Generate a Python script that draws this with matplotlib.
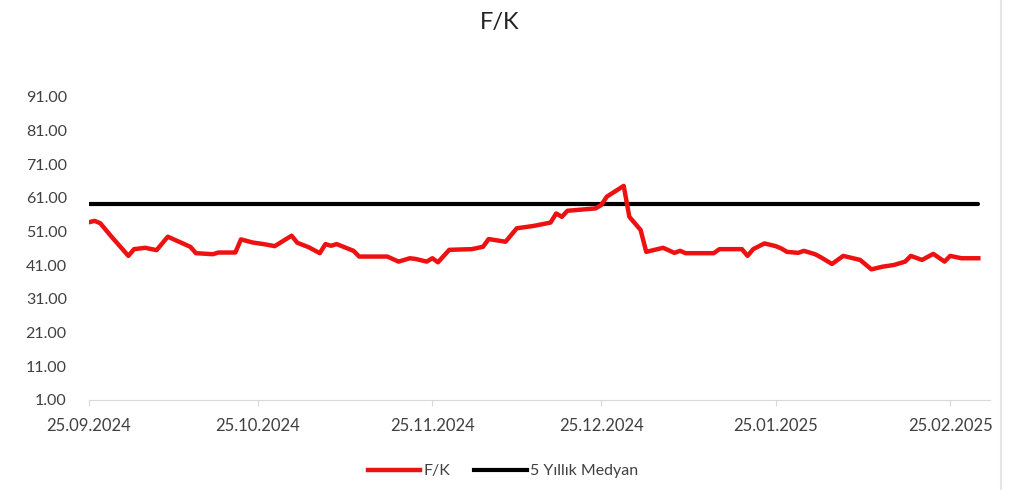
import numpy as np
import pandas as pd
import matplotlib.pyplot as plt
import matplotlib.dates as mdates
from matplotlib.lines import Line2D

plt.rcParams['font.family'] = ['Lato', 'DejaVu Sans']

# F/K series
dates = ["2024-09-25", "2024-09-26", "2024-09-27", "2024-09-29", "2024-10-02", "2024-10-03",
         "2024-10-05", "2024-10-07", "2024-10-09", "2024-10-11", "2024-10-13", "2024-10-14",
         "2024-10-17", "2024-10-18", "2024-10-21", "2024-10-22", "2024-10-24", "2024-10-26",
         "2024-10-28", "2024-10-31", "2024-11-01", "2024-11-03", "2024-11-05", "2024-11-06",
         "2024-11-07", "2024-11-08", "2024-11-11", "2024-11-12", "2024-11-17", "2024-11-19",
         "2024-11-21", "2024-11-22", "2024-11-24", "2024-11-25", "2024-11-26", "2024-11-28",
         "2024-12-02", "2024-12-04", "2024-12-05", "2024-12-08", "2024-12-10", "2024-12-13",
         "2024-12-16", "2024-12-17", "2024-12-18", "2024-12-19", "2024-12-24", "2024-12-25",
         "2024-12-26", "2024-12-29", "2024-12-30", "2025-01-01", "2025-01-02", "2025-01-05",
         "2025-01-07", "2025-01-08", "2025-01-09", "2025-01-14", "2025-01-15", "2025-01-19",
         "2025-01-20", "2025-01-21", "2025-01-23", "2025-01-25", "2025-01-26", "2025-01-27",
         "2025-01-29", "2025-01-30", "2025-02-01", "2025-02-02", "2025-02-04", "2025-02-06",
         "2025-02-09", "2025-02-11", "2025-02-13", "2025-02-15", "2025-02-17", "2025-02-18",
         "2025-02-20", "2025-02-22", "2025-02-24", "2025-02-25", "2025-02-27", "2025-03-02"]
fk = [53.8, 54.2, 53.5, 49.5, 43.8, 45.8,
      46.2, 45.5, 49.5, 48.0, 46.5, 44.6,
      44.3, 44.8, 44.8, 48.7, 47.8, 47.3,
      46.7, 49.8, 47.7, 46.4, 44.6, 47.3,
      46.8, 47.3, 45.3, 43.6, 43.6, 42.1,
      43.1, 42.9, 42.1, 43.1, 41.9, 45.6,
      45.8, 46.5, 48.8, 48.0, 52.0, 52.7,
      53.7, 56.4, 55.4, 57.2, 57.9, 58.9,
      61.4, 64.6, 55.4, 51.5, 45.0, 46.2,
      44.7, 45.3, 44.6, 44.6, 45.8, 45.8,
      43.8, 45.8, 47.5, 46.7, 46.0, 45.0,
      44.7, 45.3, 44.3, 43.4, 41.4, 43.8,
      42.6, 39.8, 40.6, 41.1, 42.1, 43.8,
      42.6, 44.4, 42.1, 43.8, 43.1, 43.1]

median_dates = ["2024-09-25", "2025-03-02"]
median_val = [59.2, 59.2]

y_ticks = np.arange(1, 92, 10)

fig = plt.figure(figsize=(10.16, 4.9), dpi=100)
ax = fig.add_axes([0.0876, 0.1837, 0.8864, 0.6184])

ax.plot(pd.to_datetime(median_dates), median_val, color='black', lw=3.0,
        solid_capstyle='round', label='5 Yıllık Medyan', zorder=2)
ax.plot(pd.to_datetime(dates), fk, color='#ee1111', lw=3.2,
        solid_joinstyle='round', label='F/K', zorder=3)

ax.set_xlim(pd.Timestamp("2024-09-25"), pd.Timestamp("2025-03-04"))
ax.set_ylim(1, 91)
ax.set_yticks(y_ticks)
ax.yaxis.set_major_formatter(plt.FormatStrFormatter('%.2f'))
ax.xaxis.set_major_locator(mdates.MonthLocator(bymonthday=25))
ax.xaxis.set_major_formatter(mdates.DateFormatter('%d.%m.%Y'))

for s in ['top', 'right', 'left']:
    ax.spines[s].set_visible(False)
ax.spines['bottom'].set_color('#d9d9d9')
ax.tick_params(axis='y', length=0, pad=16, labelsize=11.5, labelcolor='#404040')
ax.tick_params(axis='x', length=4, color='#d9d9d9', pad=9, labelsize=12, labelcolor='#404040')

fig.suptitle('F/K', x=0.492, y=0.975, fontsize=17, color='#222222')

handles = [Line2D([], [], color='#ee1111', lw=3.2),
           Line2D([], [], color='black', lw=3.0)]
fig.legend(handles, ['F/K', '5 Yıllık Medyan'], loc='center', bbox_to_anchor=(0.495, 0.038),
           ncol=2, frameon=False, fontsize=11.5, handlelength=3.3, handletextpad=0.2,
           columnspacing=1.5, labelcolor='#404040')

fig.add_artist(Line2D([0.985, 0.985], [0, 1], transform=fig.transFigure, color='#e6e6e6', lw=1.5))

fig.savefig('out.png', dpi=100)
